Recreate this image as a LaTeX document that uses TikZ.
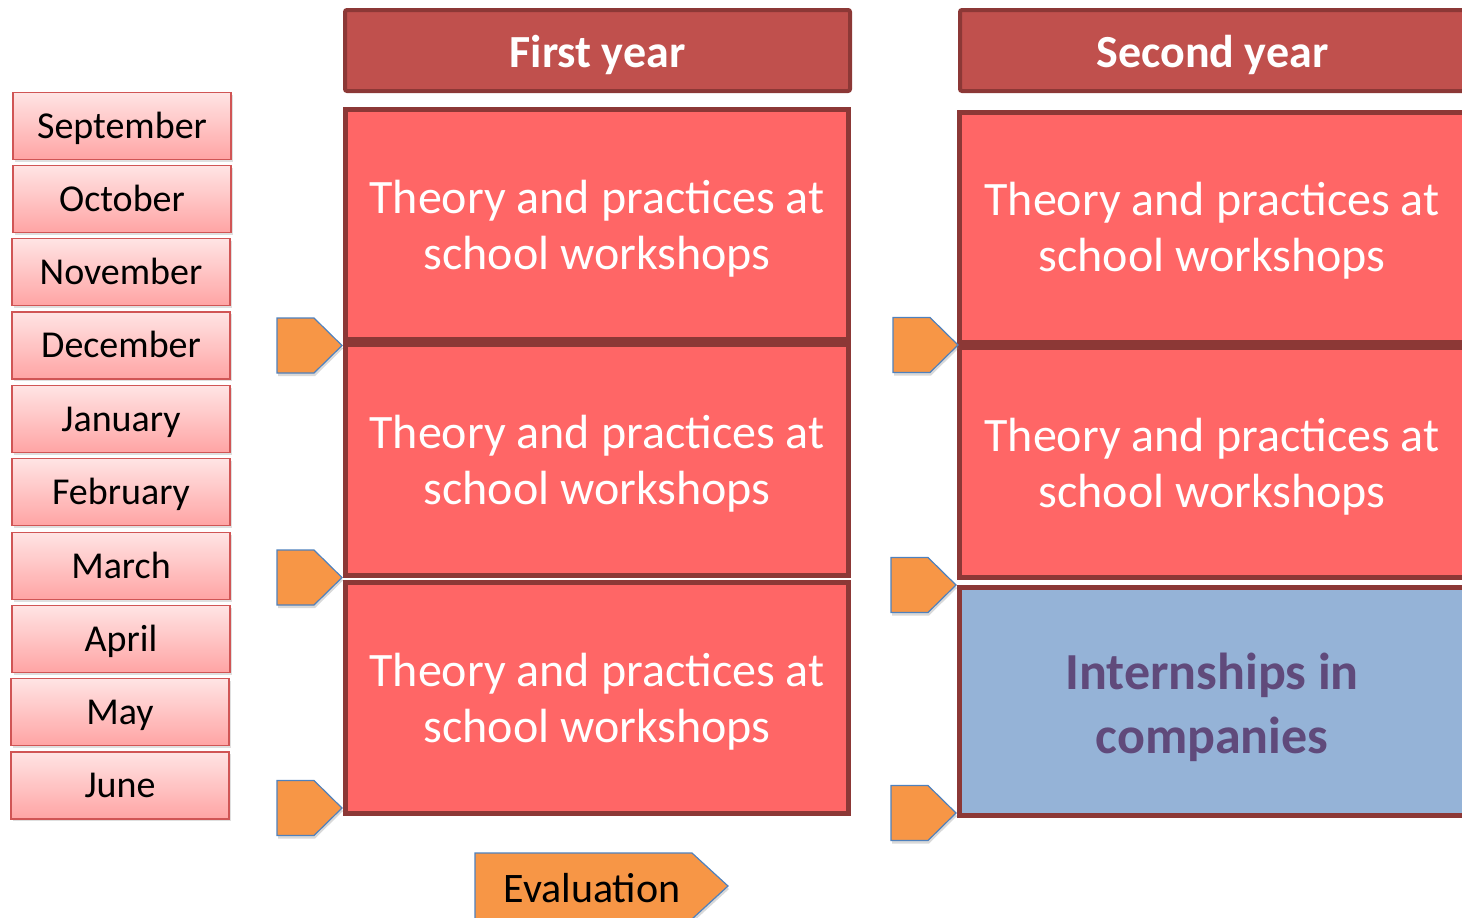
\documentclass[tikz,border=0pt]{standalone}
\usepackage{fontspec}
\setmainfont{Carlito}
\usetikzlibrary{shadows}
\definecolor{hdr}{HTML}{C0504D}
\definecolor{brd}{HTML}{8C3836}
\definecolor{boxred}{HTML}{FF6666}
\definecolor{tagor}{HTML}{F79646}
\definecolor{tagbl}{HTML}{4F81BD}
\definecolor{intbl}{HTML}{95B3D7}
\definecolor{intpu}{HTML}{604A7B}
\definecolor{mtop}{HTML}{FFE4E4}
\definecolor{mbot}{HTML}{FFA4A4}
\definecolor{mbrd}{HTML}{D05555}
\begin{document}
\begin{tikzpicture}[x=1pt,y=-1pt,
  monthbox/.style={draw=mbrd, line width=1.5pt, top color=mtop, bottom color=mbot,
    minimum width=218, minimum height=67, inner sep=0pt,
    text height=30pt, text depth=6pt,
    font=\fontsize{38}{45}\selectfont, text=black,
    drop shadow={opacity=0.25, shadow xshift=2pt, shadow yshift=-2pt}},
  yearhdr/.style={draw=brd, line width=4pt, fill=hdr, rounded corners=2pt,
    minimum width=505, minimum height=81, inner sep=0pt, text=white,
    text height=40pt, text depth=7pt,
    font=\fontsize{46}{54}\bfseries\selectfont},
  studybox/.style={draw=brd, line width=5pt, fill=boxred, minimum width=503, inner sep=0pt},
  internbox/.style={draw=brd, line width=5pt, fill=intbl, minimum width=503, inner sep=0pt},
  studytext/.style={text=white, align=center, inner sep=0pt, font=\fontsize{48}{56}\selectfont},
  interntext/.style={text=intpu, align=center, inner sep=0pt, font=\fontsize{52}{64}\bfseries\selectfont},
  tagshape/.style={fill=tagor, draw=tagbl, line width=1.2pt, line join=miter,
    drop shadow={opacity=0.3, shadow xshift=1pt, shadow yshift=-3pt}},
  evaltext/.style={font=\fontsize{42}{50}\selectfont, text=black, inner sep=0pt}
]
\useasboundingbox (0,0) rectangle (1462,918);
\clip (0,0) rectangle (1462,918);

% months
\node[monthbox] (sep) at (122,126) {September};
\node[monthbox] (oct) at (122,199) {October};
\node[monthbox] (nov) at (121,272) {November};
\node[monthbox] (dec) at (121,345.5) {December};
\node[monthbox] (jan) at (121,419) {January};
\node[monthbox] (feb) at (121,492) {February};
\node[monthbox] (mar) at (121,566) {March};
\node[monthbox] (apr) at (121,639) {April};
\node[monthbox] (may) at (120,712) {May};
\node[monthbox] (jun) at (120,785.5) {June};

% headers
\node[yearhdr] (y1) at (597.5,50.5) {First year};
\node[yearhdr] (y2) at (1212.5,50.5) {Second year};

% first year
\node[studybox, minimum height=230] (a1) at (597,224.5) {};
\node[studybox, minimum height=231] (a2) at (597,460) {};
\node[studybox, minimum height=231] (a3) at (597,698) {};

% second year
\node[studybox, minimum width=505, minimum height=230] (b1) at (1212,227.5) {};
\node[studybox, minimum width=505, minimum height=230] (b2) at (1212,462.5) {};
\node[internbox, minimum width=505, minimum height=228] (b3) at (1212,701.5) {};

\node[studytext] (a1t) at ([yshift=-4pt]a1.center) {Theory and practices at\\school workshops};
\node[studytext] (a2t) at ([yshift=-4pt]a2.center) {Theory and practices at\\school workshops};
\node[studytext] (a3t) at ([yshift=-4pt]a3.center) {Theory and practices at\\school workshops};
\node[studytext] (b1t) at ([yshift=-3pt]b1.center) {Theory and practices at\\school workshops};
\node[studytext] (b2t) at ([yshift=-4pt]b2.center) {Theory and practices at\\school workshops};
\node[interntext] (b3t) at ([yshift=-6pt]b3.center) {Internships in\\companies};

% orange tags
\foreach \tx/\ty in {342/345.5, 342/577.5, 342/808, 958/345, 956/585, 956/813}{
  \draw[tagshape] (\tx-65,\ty-27.5) -- (\tx-28,\ty-27.5) -- (\tx,\ty)
    -- (\tx-28,\ty+27.5) -- (\tx-65,\ty+27.5) -- cycle;
}

% evaluation
\draw[tagshape] (475,853) -- (692,853) -- (728,886) -- (692,919) -- (475,919) -- cycle;
\node[evaltext] (ev) at (592,888) {Evaluation};
\end{tikzpicture}
\end{document}
